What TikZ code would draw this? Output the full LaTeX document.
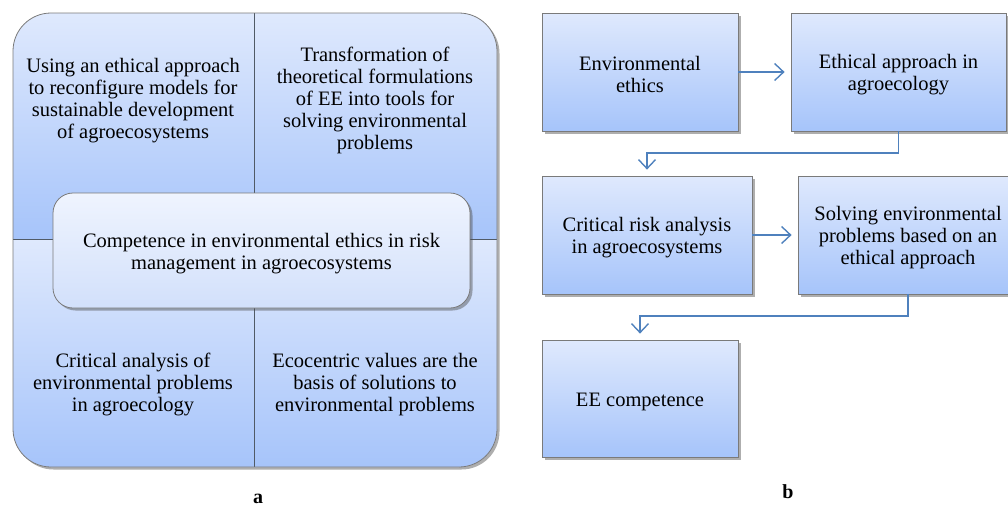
\documentclass[tikz,border=0pt]{standalone}
\usepackage{fontspec}
\setmainfont{Liberation Serif}
\usetikzlibrary{shadows,arrows.meta}
\definecolor{gtop}{HTML}{DFE9FD}
\definecolor{gbot}{HTML}{A6C4FA}
\definecolor{ctop}{HTML}{EFF4FE}
\definecolor{cbot}{HTML}{D2E0FB}
\definecolor{arrc}{HTML}{4F81BD}
\definecolor{edgec}{HTML}{7A7A7A}
\definecolor{divc}{HTML}{505A66}
\newcommand\tup{\rule{0pt}{20pt}}
\begin{document}
\begin{tikzpicture}[x=1pt,y=-1pt,
  txt/.style={align=center,inner sep=0pt,font=\fontsize{20.5}{22}\selectfont},
  shad/.style={drop shadow={shadow xshift=2.5pt,shadow yshift=-2.5pt,opacity=0.45,fill=black!70}},
  fbox/.style={txt,draw=edgec,line width=0.8pt,top color=gtop,bottom color=gbot,shad,minimum height=118pt},
  cbox/.style={txt,draw=edgec,line width=0.8pt,top color=ctop,bottom color=cbot,shad,rounded corners=20pt,minimum width=417pt,minimum height=115pt},
  arr/.style={draw=arrc,line width=1.4pt,-{Straight Barb[length=9pt,width=17pt,line width=1.4pt]},shorten >=6pt},
  lbl/.style={inner sep=0pt,font=\fontsize{20}{22}\selectfont\bfseries}]
\useasboundingbox (0,0) rectangle (1008,507);
% ---------- panel a ----------
\path[rounded corners=38pt,fill=white,shad] (13,13) rectangle (497,467);
\begin{scope}
  \clip[rounded corners=38pt] (13,13) rectangle (497,467);
  \shade[top color=gtop,bottom color=gbot] (13,13) rectangle (497,239);
  \shade[top color=gtop,bottom color=gbot] (13,239) rectangle (497,467);
  \draw[divc,line width=0.8pt] (254,13) -- (254,467);
  \draw[divc,line width=0.8pt] (13,239) -- (497,239);
\end{scope}
\draw[edgec,line width=0.8pt,rounded corners=38pt] (13,13) rectangle (497,467);
\node[txt] (q1) at (133,98) {\tup Using an ethical approach\\to reconfigure models for\\sustainable development\\of agroecosystems};
\node[txt] (q2) at (375,98) {\tup Transformation of\\theoretical formulations\\of EE into tools for\\solving environmental\\problems};
\node[txt] (q3) at (133,382) {\tup Critical analysis of\\environmental problems\\in agroecology};
\node[txt] (q4) at (375,382) {\tup Ecocentric values are the\\basis of solutions to\\environmental problems};
\node[cbox] (c) at (261.5,250.5) {\tup Competence in environmental ethics in risk\\management in agroecosystems};
\node[lbl] (la) at (258,499) {a};
% ---------- panel b ----------
\node[fbox,minimum width=196pt] (b1) at (640,72) {\tup Environmental\\ethics};
\node[fbox,minimum width=215pt] (b2) at (898.5,72) {\tup Ethical approach in\\agroecology};
\node[fbox,minimum width=210pt] (b3) at (647,235) {\tup Critical risk analysis\\in agroecosystems};
\node[fbox,minimum width=220pt] (b4) at (908,235) {\tup Solving environmental\\problems based on an\\ethical approach};
\node[fbox,minimum width=196pt,minimum height=117pt] (b5) at (640,398.5) {\tup EE competence};
\node[lbl] (lb) at (788,492) {b};
\draw[arr] (b1.east) -- (b2.west);
\draw[arr] (b3.east) -- (b4.west);
\draw[arr] (b2.south) -- (b2.south |- 0,153) -| (b3.north);
\draw[arr] (b4.south) -- (b4.south |- 0,316) -| (b5.north);
\end{tikzpicture}
\end{document}
